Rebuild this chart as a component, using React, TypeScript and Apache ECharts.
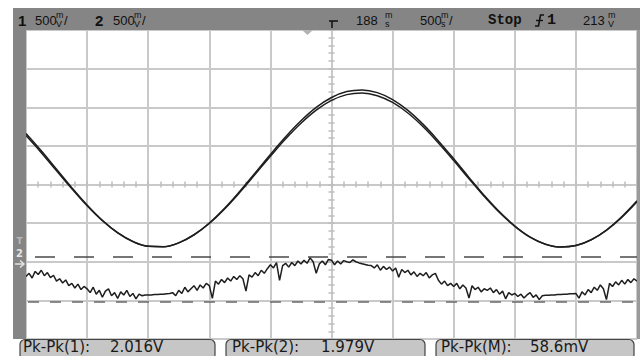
import React, { useEffect, useRef } from "react";
import * as echarts from "echarts";

// Horizontal position of the first sample (divisions from screen centre) and sample steps
const X_START = -5;
const SINE_STEP = 0.25;
const MATH_STEP = 0.05;

// Channel 1 trace (vertical divisions)
const ch1Values = [
  1.323, 0.873, 0.396, -0.081, -0.53, -0.926, -1.247, -1.476, -1.599, -1.611,
  -1.51, -1.301, -0.997, -0.614, -0.174, 0.299, 0.779, 1.238, 1.65, 1.996,
  2.253, 2.406, 2.449, 2.379, 2.2, 1.92, 1.557, 1.129, 0.665, 0.184,
  -0.283, -0.709, -1.074, -1.36, -1.544, -1.619, -1.58, -1.43, -1.178, -0.836,
  -0.424,
];

// Channel 2 trace
const ch2Values = [
  1.266, 0.824, 0.356, -0.111, -0.552, -0.939, -1.254, -1.479, -1.6, -1.611,
  -1.512, -1.307, -1.009, -0.633, -0.202, 0.262, 0.732, 1.182, 1.586, 1.925,
  2.176, 2.327, 2.369, 2.3, 2.124, 1.851, 1.495, 1.075, 0.62, 0.149,
  -0.309, -0.727, -1.084, -1.365, -1.545, -1.619, -1.581, -1.434, -1.186, -0.852,
  -0.448,
];

// Math trace (noisy)
const mathValues = [
  -2.38, -2.30, -2.42, -2.25, -2.33, -2.22, -2.36, -2.28, -2.41, -2.35, -2.50, -2.44, -2.55, -2.47, -2.62, -2.56, -2.68, -2.58, -2.72, -2.64,
  -2.70, -2.80, -2.66, -2.84, -2.74, -2.92, -2.76, -2.70, -2.88, -2.80, -2.95, -2.78, -2.86, -2.74, -2.90, -2.82, -2.96, -2.84, -2.88, -2.86,
  -2.86, -2.86, -2.85, -2.85, -2.84, -2.84, -2.83, -2.82, -2.80, -2.88, -2.74, -2.82, -2.66, -2.78, -2.70, -2.62, -2.74, -2.60, -2.68, -2.56,
  -2.62, -2.95, -2.50, -2.58, -2.46, -2.54, -2.42, -2.50, -2.38, -2.46, -2.36, -2.44, -2.76, -2.34, -2.40, -2.28, -2.36, -2.22, -2.30, -2.18,
  -2.08, -2.16, -2.02, -2.48, -2.10, -2.04, -2.14, -2.02, -2.10, -1.98, -2.06, -1.96, -2.04, -1.90, -2.00, -2.30, -2.06, -1.98, -2.08, -1.94,
  -1.96, -2.08, -1.98, -2.06, -1.97, -2.00, -2.02, -1.95, -2.00, -2.03, -2.05, -2.07, -2.09, -2.10, -2.16, -2.08, -2.22, -2.12, -2.20, -2.14,
  -2.24, -2.16, -2.40, -2.20, -2.28, -2.22, -2.34, -2.26, -2.38, -2.30, -2.36, -2.28, -2.42, -2.34, -2.30, -2.48, -2.58, -2.50, -2.62, -2.56,
  -2.64, -2.56, -2.70, -2.60, -2.68, -2.94, -2.62, -2.72, -2.66, -2.78, -2.70, -2.74, -2.68, -2.80, -2.72, -2.84, -2.76, -2.96, -2.80, -2.86,
  -2.82, -2.90, -2.84, -2.94, -2.86, -2.80, -2.92, -2.86, -2.98, -2.88, -2.87, -2.87, -2.86, -2.86, -2.85, -2.85, -2.84, -2.84, -2.83, -2.83,
  -2.82, -2.94, -2.78, -2.86, -2.72, -2.80, -2.66, -2.74, -2.60, -2.70, -2.98, -2.56, -2.64, -2.52, -2.60, -2.48, -2.58, -2.46, -2.54, -2.44,
  -2.50,
];

// Horizontal cursor levels (divisions)
const cursorLevels = [-1.88, -3.04];

// Texts
const measureLabels = ["Pk-Pk(1):", "Pk-Pk(2):", "Pk-Pk(M):"];
const measureValues = ["2.016V", "1.979V", "58.6mV"];

const toPairs = (vals: number[], step: number) =>
  vals.map((v, i) => [X_START + i * step, v]);

const FRAME = "#858585";
const GRID = "#c9c9c9";
const TICK = "#bdbdbd";
const TRACE = "#1e1e1e";

function topText(text: string, x: number, y: number, size: number, bold = false, font = "Liberation Sans") {
  return {
    type: "text",
    x,
    y,
    style: {
      text,
      fill: "#111",
      font: `${bold ? "bold " : ""}${size}px "${font}"`,
      verticalAlign: "middle",
      align: "left",
    },
  };
}

function stacked(top: string, bottom: string, x: number) {
  return [topText(top, x, 15, 9), topText(bottom, x, 23.5, 9)];
}

export default function App() {
  const ref = useRef<HTMLDivElement>(null);

  useEffect(() => {
    document.body.style.margin = "0";
    if (!ref.current) return;
    const chart = echarts.init(ref.current, undefined, { renderer: "svg" });

    const boxes = [
      { x: 20, w: 195, lx: 23, vx: 110 },
      { x: 226, w: 199, lx: 232, vx: 321 },
      { x: 436, w: 198, lx: 441, vx: 530 },
    ];

    const graphics: any[] = [
      { type: "rect", shape: { x: 13, y: 8, width: 627, height: 22 }, style: { fill: FRAME }, z: 10 },
      { type: "rect", shape: { x: 13, y: 30, width: 13, height: 309 }, style: { fill: FRAME }, z: 10 },
      { type: "rect", shape: { x: 637, y: 30, width: 3, height: 309 }, style: { fill: "#9a9a9a" }, z: 10 },
      // channel markers on the left strip
      { type: "text", x: 19.5, y: 241, style: { text: "T", fill: "#b9b9b9", font: 'bold 9px "DejaVu Sans"', align: "center", verticalAlign: "middle" }, z: 11 },
      { type: "text", x: 19.5, y: 253, style: { text: "2", fill: "#e6e6e6", font: 'bold 10px "DejaVu Sans"', align: "center", verticalAlign: "middle" }, z: 11 },
      { type: "polyline", shape: { points: [[15, 264], [24, 264]] }, style: { stroke: "#e6e6e6", lineWidth: 1.5 }, z: 11 },
      { type: "polyline", shape: { points: [[20, 260.5], [24, 264], [20, 267.5]] }, style: { stroke: "#e6e6e6", lineWidth: 1.5, fill: "none" }, z: 11 },
      // trigger position marker
      { type: "polygon", shape: { points: [[302, 30], [313, 30], [307.5, 35]] }, style: { fill: "#b3b3b3" }, z: 11 },
      // top bar texts
      { ...topText("1", 18, 20, 15, true), z: 11 },
      { ...topText("500", 35, 20, 13), z: 11 },
      ...stacked("m", "V", 56).map((t) => ({ ...t, z: 11 })),
      { ...topText("/", 64, 20, 13), z: 11 },
      { ...topText("2", 95, 20, 15, true), z: 11 },
      { ...topText("500", 113, 20, 13), z: 11 },
      ...stacked("m", "V", 134).map((t) => ({ ...t, z: 11 })),
      { ...topText("/", 142, 20, 13), z: 11 },
      { type: "polyline", shape: { points: [[329, 21], [338, 21]] }, style: { stroke: "#111", lineWidth: 1.5 }, z: 11 },
      { type: "polyline", shape: { points: [[332, 21], [332, 28]] }, style: { stroke: "#111", lineWidth: 1.5 }, z: 11 },
      { ...topText("188", 356, 20, 13), z: 11 },
      ...stacked("m", "s", 385).map((t) => ({ ...t, z: 11 })),
      { ...topText("500", 420, 20, 13), z: 11 },
      ...stacked("m", "s", 441).map((t) => ({ ...t, z: 11 })),
      { ...topText("/", 449, 20, 13), z: 11 },
      { ...topText("Stop", 488, 20, 14, true, "Liberation Mono"), z: 11 },
      { type: "polyline", shape: { points: [[535, 26], [538.5, 26], [540.5, 15], [544, 15]] }, style: { stroke: "#111", lineWidth: 1.6, fill: "none" }, z: 11 },
      { type: "polyline", shape: { points: [[536, 20.5], [543, 20.5]] }, style: { stroke: "#111", lineWidth: 1.4 }, z: 11 },
      { ...topText("1", 547, 20, 15, true, "Liberation Mono"), z: 11 },
      { ...topText("213", 583, 20, 13), z: 11 },
      ...stacked("m", "V", 608).map((t) => ({ ...t, z: 11 })),
    ];

    boxes.forEach((b, i) => {
      graphics.push({
        type: "rect",
        shape: { x: b.x, y: 339.5, width: b.w, height: 20, r: 5 },
        style: { fill: "#c6c6c6", stroke: "#444", lineWidth: 1.2 },
        z: 10,
      });
      graphics.push({
        type: "text",
        x: b.lx,
        y: 347,
        style: { text: measureLabels[i], fill: "#1a1a1a", font: '15px "DejaVu Sans"', verticalAlign: "middle" },
        z: 11,
      });
      graphics.push({
        type: "text",
        x: b.vx,
        y: 347,
        style: { text: measureValues[i], fill: "#1a1a1a", font: '15px "DejaVu Sans"', verticalAlign: "middle" },
        z: 11,
      });
    });

    const tickAxisX = (inside: boolean) => ({
      type: "value",
      min: -5,
      max: 5,
      interval: 1,
      position: "bottom",
      axisLine: { show: false, onZero: true },
      axisTick: { show: true, inside, length: 3, lineStyle: { color: TICK, width: 1.5 } },
      minorTick: { show: true, splitNumber: 5, length: 3, lineStyle: { color: TICK, width: 1.5 } },
      axisLabel: { show: false },
      splitLine: { show: false },
    });
    const tickAxisY = (inside: boolean) => ({
      type: "value",
      min: -4,
      max: 4,
      interval: 1,
      position: "left",
      axisLine: { show: false, onZero: true },
      axisTick: { show: true, inside, length: 3, lineStyle: { color: TICK, width: 1.5 } },
      minorTick: { show: true, splitNumber: 5, length: 3, lineStyle: { color: TICK, width: 1.5 } },
      axisLabel: { show: false },
      splitLine: { show: false },
    });

    chart.setOption({
      animation: false,
      backgroundColor: "#ffffff",
      grid: { left: 26, right: 3, top: 30, bottom: 17 },
      xAxis: [
        {
          type: "value",
          min: -5,
          max: 5,
          interval: 1,
          axisLine: { show: false },
          axisTick: { show: false },
          axisLabel: { show: false },
          splitLine: { show: true, lineStyle: { color: GRID, width: 2 } },
        },
        tickAxisX(true),
        tickAxisX(false),
      ],
      yAxis: [
        {
          type: "value",
          min: -4,
          max: 4,
          interval: 1,
          axisLine: { show: false },
          axisTick: { show: false },
          axisLabel: { show: false },
          splitLine: { show: true, lineStyle: { color: GRID, width: 2 } },
        },
        tickAxisY(true),
        tickAxisY(false),
      ],
      series: [
        {
          name: "1",
          type: "line",
          data: toPairs(ch1Values, SINE_STEP),
          smooth: 0.4,
          showSymbol: false,
          lineStyle: { color: TRACE, width: 1.5 },
          z: 5,
        },
        {
          name: "2",
          type: "line",
          data: toPairs(ch2Values, SINE_STEP),
          smooth: 0.4,
          showSymbol: false,
          lineStyle: { color: TRACE, width: 1.5 },
          z: 5,
        },
        {
          name: "M",
          type: "line",
          data: toPairs(mathValues, MATH_STEP),
          showSymbol: false,
          lineStyle: { color: TRACE, width: 1.5 },
          z: 5,
          markLine: {
            silent: true,
            symbol: "none",
            label: { show: false },
            data: [
              { yAxis: cursorLevels[0], lineStyle: { color: "#4a4a4a", width: 1.5, type: [20, 19], dashOffset: 30 } },
              { yAxis: cursorLevels[1], lineStyle: { color: "#6a6a6a", width: 1.5, type: [11, 11], dashOffset: 20 } },
            ],
          },
        },
      ],
      graphic: graphics,
    });

    return () => chart.dispose();
  }, []);

  return (
    <div
      ref={ref}
      style={{ position: "absolute", left: 0, top: 0, width: 640, height: 356, background: "#fff" }}
    />
  );
}
